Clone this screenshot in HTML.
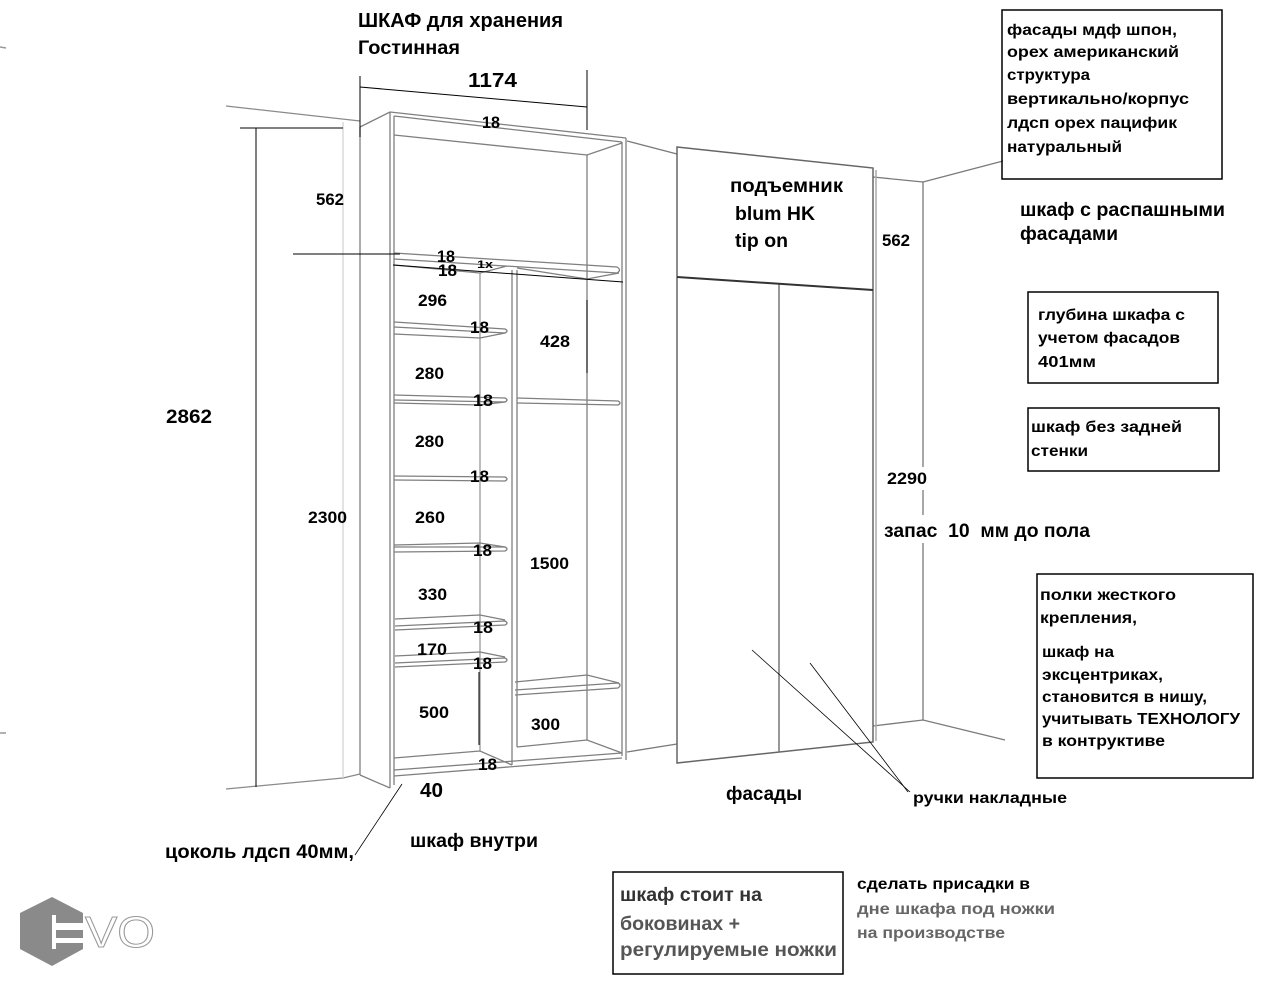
<!DOCTYPE html>
<html><head><meta charset="utf-8">
<style>
html,body{margin:0;padding:0;background:#fff;}
svg{display:block;}
text{font-family:"Liberation Sans","DejaVu Sans",sans-serif;font-weight:bold;fill:#000;}
</style></head><body>
<svg width="1275" height="987" viewBox="0 0 1275 987" xmlns="http://www.w3.org/2000/svg">
<rect width="1275" height="987" fill="#fff"/>

<!-- edge ticks -->
<g stroke="#999" stroke-width="1.5">
<line x1="0" y1="47" x2="6" y2="48"/>
<line x1="0" y1="733" x2="6" y2="733"/>
</g>

<!-- left wall -->
<g stroke="#8a8a8a" stroke-width="1.3" fill="none">
<line x1="226" y1="106" x2="360" y2="121"/>
<line x1="226" y1="789" x2="343" y2="778"/>
<line x1="343" y1="778" x2="360" y2="774"/>
</g>
<line x1="343" y1="122" x2="343" y2="778" stroke="#d0d0d0" stroke-width="1.2"/>

<!-- left cabinet frame -->
<g stroke="#7f7f7f" stroke-width="1.3" fill="none">
<line x1="360" y1="127" x2="360" y2="775"/>
<line x1="360" y1="127" x2="390" y2="112"/>
<line x1="390" y1="112" x2="390" y2="788"/>
<line x1="394" y1="116" x2="394" y2="785"/>
<line x1="360" y1="775" x2="390" y2="788"/>
<line x1="390" y1="112" x2="626" y2="138"/>
<line x1="394" y1="116" x2="622" y2="142"/>
<polyline points="394,135 587,155 622,143"/>
<line x1="622" y1="142" x2="622" y2="756"/>
<line x1="626" y1="138" x2="626" y2="760"/>
<line x1="587" y1="155" x2="587" y2="740"/>
<line x1="512" y1="270" x2="512" y2="765"/>
<line x1="517" y1="270" x2="517" y2="747"/>
<line x1="480" y1="273" x2="480" y2="751" stroke="#999"/>
<!-- top shelf -->
<path d="M394,253 L617,267 Q622,270 617,273 L394,259"/>
<polyline points="394,265 480,273 507,266"/>
<polyline points="517,268 587,279 619,273"/>
<!-- left shelves -->
<path d="M394,322 L505,329 Q509,331 505,333 L394,327"/>
<polyline points="394,334 480,338 505,333"/>
<path d="M394,395 L505,398 Q509,400 505,402 L394,400"/>
<polyline points="394,403 480,405 505,402"/>
<path d="M394,476 L505,477 Q509,479 505,481 L394,480"/>
<path d="M394,547 L505,547 Q509,549 505,551 L394,552"/>
<polyline points="394,545 480,543 505,547"/>
<polyline points="395,619 480,615 505,620"/>
<path d="M395,626 L505,621 Q509,623 505,625 L395,630"/>
<polyline points="395,656 480,652 505,657"/>
<path d="M395,663 L505,658 Q509,660 505,662 L395,667"/>
<!-- right shelves -->
<path d="M517,398 L618,401 Q622,403 618,405 L517,403"/>
<polyline points="515,682 587,675 619,683"/>
<path d="M515,690 L618,683 Q622,685 618,688 L515,695"/>
<!-- bottom -->
<polyline points="394,758 480,751 512,765"/>
<polyline points="517,747 587,740 622,753"/>
<line x1="394" y1="770" x2="622" y2="753"/>
<line x1="394" y1="776" x2="622" y2="758"/>
</g>

<!-- walls between / right -->
<g stroke="#7a7a7a" stroke-width="1.3" fill="none">
<line x1="627" y1="141" x2="677" y2="154"/>
<line x1="627" y1="752" x2="677" y2="744"/>
<line x1="873" y1="177" x2="923" y2="182"/>
<line x1="923" y1="182" x2="1003" y2="161"/>
<line x1="923" y1="182" x2="923" y2="720"/>
<polyline points="873,726 923,720 1005,740"/>
</g>

<!-- right cabinet -->
<g stroke="#666" stroke-width="1.5" fill="none">
<polygon points="677,147 873,168 873,742 677,763"/>
<line x1="876" y1="170" x2="876" y2="741" stroke="#aaa"/>
<line x1="779" y1="284" x2="779" y2="752" stroke="#777"/>
</g>
<line x1="677" y1="277" x2="873" y2="290" stroke="#333" stroke-width="2"/>

<!-- dimension / leader lines -->
<g stroke="#000" stroke-width="1" fill="none">
<line x1="360" y1="76" x2="360" y2="137"/>
<line x1="587" y1="70" x2="587" y2="130"/>
<line x1="360" y1="87" x2="587" y2="107"/>
<line x1="240" y1="128" x2="343" y2="128"/>
<line x1="256" y1="128" x2="256" y2="787"/>
<line x1="293" y1="254" x2="400" y2="254"/>
<line x1="393" y1="265" x2="623" y2="282"/>
<line x1="587" y1="300" x2="587" y2="373"/>
<line x1="479" y1="672" x2="479" y2="745"/>
<line x1="355" y1="855" x2="402" y2="784" stroke-width="0.8"/>
<line x1="752" y1="650" x2="910" y2="792" stroke-width="0.8"/>
<line x1="810" y1="663" x2="908" y2="792" stroke-width="0.8"/>
</g>

<!-- boxes -->
<g stroke="#000" stroke-width="1.5" fill="none">
<rect x="1002" y="10" width="220" height="169"/>
<rect x="1028" y="292" width="190" height="91"/>
<rect x="1028" y="408" width="191" height="63"/>
<rect x="1037" y="574" width="216" height="204"/>
<rect x="613" y="872" width="230" height="102"/>
</g>

<!-- white bg behind right labels -->
<rect x="885" y="467" width="45" height="23" fill="#fff"/>
<rect x="882" y="515" width="210" height="28" fill="#fff"/>

<!-- titles -->
<text x="358" y="27" font-size="20" textLength="205" lengthAdjust="spacingAndGlyphs">ШКАФ для хранения</text>
<text x="358" y="54" font-size="19" textLength="102" lengthAdjust="spacingAndGlyphs">Гостинная</text>
<text x="468" y="87" font-size="20" textLength="49" lengthAdjust="spacingAndGlyphs">1174</text>

<!-- left dims -->
<text x="316" y="205" font-size="17" textLength="28" lengthAdjust="spacingAndGlyphs">562</text>
<text x="166" y="423" font-size="19" textLength="46" lengthAdjust="spacingAndGlyphs">2862</text>
<text x="308" y="523" font-size="17" textLength="39" lengthAdjust="spacingAndGlyphs">2300</text>

<!-- cabinet labels -->
<g font-size="17">
<text x="482" y="128" textLength="18" lengthAdjust="spacingAndGlyphs">18</text>
<text x="437" y="262" textLength="18" lengthAdjust="spacingAndGlyphs">18</text>
<text x="438" y="276" textLength="19" lengthAdjust="spacingAndGlyphs">18</text>
<text x="477" y="268" font-size="11" textLength="16" lengthAdjust="spacingAndGlyphs">1x</text>
<text x="418" y="306" textLength="29" lengthAdjust="spacingAndGlyphs">296</text>
<text x="540" y="347" textLength="30" lengthAdjust="spacingAndGlyphs">428</text>
<text x="415" y="379" textLength="29" lengthAdjust="spacingAndGlyphs">280</text>
<text x="415" y="447" textLength="29" lengthAdjust="spacingAndGlyphs">280</text>
<text x="415" y="523" textLength="30" lengthAdjust="spacingAndGlyphs">260</text>
<text x="470" y="333" textLength="19" lengthAdjust="spacingAndGlyphs">18</text>
<text x="473" y="406" textLength="20" lengthAdjust="spacingAndGlyphs">18</text>
<text x="470" y="482" textLength="19" lengthAdjust="spacingAndGlyphs">18</text>
<text x="473" y="556" textLength="19" lengthAdjust="spacingAndGlyphs">18</text>
<text x="530" y="569" textLength="39" lengthAdjust="spacingAndGlyphs">1500</text>
<text x="418" y="600" textLength="29" lengthAdjust="spacingAndGlyphs">330</text>
<text x="473" y="633" textLength="20" lengthAdjust="spacingAndGlyphs">18</text>
<text x="417" y="655" textLength="30" lengthAdjust="spacingAndGlyphs">170</text>
<text x="473" y="669" textLength="19" lengthAdjust="spacingAndGlyphs">18</text>
<text x="419" y="718" textLength="30" lengthAdjust="spacingAndGlyphs">500</text>
<text x="531" y="730" textLength="29" lengthAdjust="spacingAndGlyphs">300</text>
<text x="478" y="770" textLength="19" lengthAdjust="spacingAndGlyphs">18</text>
</g>
<text x="420" y="797" font-size="20" textLength="23" lengthAdjust="spacingAndGlyphs">40</text>

<text x="165" y="858" font-size="19" textLength="189" lengthAdjust="spacingAndGlyphs">цоколь лдсп 40мм,</text>
<text x="410" y="847" font-size="19" textLength="128" lengthAdjust="spacingAndGlyphs">шкаф внутри</text>

<!-- right cabinet labels -->
<text x="730" y="192" font-size="19" textLength="113" lengthAdjust="spacingAndGlyphs">подъемник</text>
<text x="735" y="220" font-size="19" textLength="80" lengthAdjust="spacingAndGlyphs">blum HK</text>
<text x="735" y="247" font-size="19" textLength="53" lengthAdjust="spacingAndGlyphs">tip on</text>
<text x="882" y="246" font-size="17" textLength="28" lengthAdjust="spacingAndGlyphs">562</text>
<text x="887" y="484" font-size="17" textLength="40" lengthAdjust="spacingAndGlyphs">2290</text>
<text x="884" y="537" font-size="19" textLength="206" lengthAdjust="spacingAndGlyphs">запас&#160;&#160;10&#160;&#160;мм до пола</text>
<text x="726" y="800" font-size="19" textLength="76" lengthAdjust="spacingAndGlyphs">фасады</text>
<text x="913" y="803" font-size="16" textLength="154" lengthAdjust="spacingAndGlyphs">ручки накладные</text>

<!-- box 1 -->
<g font-size="16">
<text x="1007" y="35" textLength="170" lengthAdjust="spacingAndGlyphs">фасады мдф шпон,</text>
<text x="1007" y="57" textLength="172" lengthAdjust="spacingAndGlyphs">орех американский</text>
<text x="1007" y="80" textLength="83" lengthAdjust="spacingAndGlyphs">структура</text>
<text x="1007" y="104" textLength="182" lengthAdjust="spacingAndGlyphs">вертикально/корпус</text>
<text x="1007" y="128" textLength="170" lengthAdjust="spacingAndGlyphs">лдсп орех пацифик</text>
<text x="1007" y="152" textLength="115" lengthAdjust="spacingAndGlyphs">натуральный</text>
</g>
<text x="1020" y="216" font-size="19" textLength="205" lengthAdjust="spacingAndGlyphs">шкаф с распашными</text>
<text x="1020" y="240" font-size="19" textLength="98" lengthAdjust="spacingAndGlyphs">фасадами</text>

<g font-size="16">
<text x="1038" y="320" textLength="147" lengthAdjust="spacingAndGlyphs">глубина шкафа с</text>
<text x="1038" y="343" textLength="142" lengthAdjust="spacingAndGlyphs">учетом фасадов</text>
<text x="1038" y="367" textLength="58" lengthAdjust="spacingAndGlyphs">401мм</text>
<text x="1031" y="432" textLength="151" lengthAdjust="spacingAndGlyphs">шкаф без задней</text>
<text x="1031" y="456" textLength="57" lengthAdjust="spacingAndGlyphs">стенки</text>

<text x="1040" y="600" textLength="136" lengthAdjust="spacingAndGlyphs">полки жесткого</text>
<text x="1040" y="623" textLength="97" lengthAdjust="spacingAndGlyphs">крепления,</text>
<text x="1042" y="657" textLength="72" lengthAdjust="spacingAndGlyphs">шкаф на</text>
<text x="1042" y="680" textLength="121" lengthAdjust="spacingAndGlyphs">эксцентриках,</text>
<text x="1042" y="702" textLength="165" lengthAdjust="spacingAndGlyphs">становится в нишу,</text>
<text x="1042" y="724" textLength="198" lengthAdjust="spacingAndGlyphs">учитывать ТЕХНОЛОГУ</text>
<text x="1042" y="746" textLength="123" lengthAdjust="spacingAndGlyphs">в контруктиве</text>
</g>

<!-- bottom boxes -->
<g font-size="19">
<text x="620" y="901" textLength="142" lengthAdjust="spacingAndGlyphs" style="fill:#333">шкаф стоит на</text>
<text x="620" y="930" textLength="120" lengthAdjust="spacingAndGlyphs" style="fill:#555">боковинах +</text>
<text x="620" y="956" textLength="217" lengthAdjust="spacingAndGlyphs" style="fill:#555">регулируемые ножки</text>
</g>
<g font-size="16">
<text x="857" y="889" textLength="173" lengthAdjust="spacingAndGlyphs">сделать присадки в</text>
<text x="857" y="914" textLength="198" lengthAdjust="spacingAndGlyphs" style="fill:#666">дне шкафа под ножки</text>
<text x="857" y="938" textLength="148" lengthAdjust="spacingAndGlyphs" style="fill:#666">на производстве</text>
</g>

<!-- EVO logo -->
<polygon points="52,897 83,913 83,949 52,966 20,949 20,913" fill="#8a8a8a"/>
<rect x="52" y="915" width="4" height="34" fill="#fff"/>
<rect x="56" y="923" width="28" height="7" fill="#fff"/>
<rect x="56" y="938" width="28" height="5" fill="#fff"/>
<text x="85" y="947" font-size="44" textLength="70" lengthAdjust="spacingAndGlyphs" style="fill:#fff;stroke:#999;stroke-width:1;font-weight:normal">VO</text>
</svg>
</body></html>
